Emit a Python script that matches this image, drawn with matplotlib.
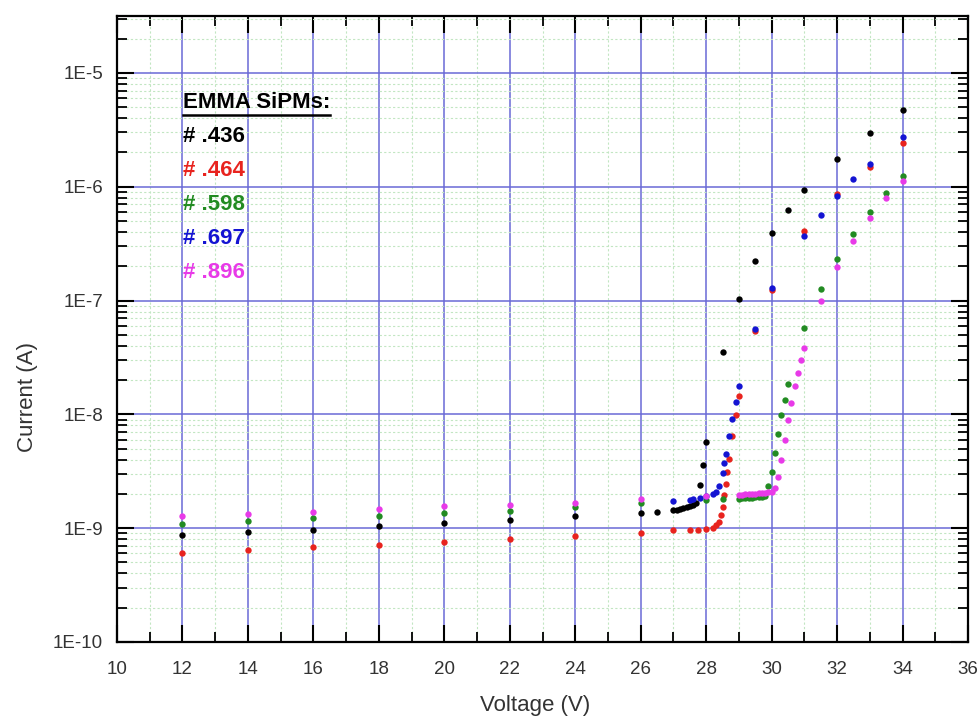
import matplotlib
matplotlib.use("Agg")
import matplotlib.pyplot as plt
from matplotlib.ticker import FixedLocator, LogLocator, NullFormatter, FixedFormatter
from matplotlib.lines import Line2D

plt.rcParams['font.family'] = ['Liberation Sans', 'DejaVu Sans']

low_v = [12, 14, 16, 18, 20, 22, 24, 26]

# Series #.436 (black)
v436 = low_v + [26.5, 27.0, 27.1, 27.2, 27.3, 27.4, 27.5, 27.6, 27.7, 27.8, 27.9, 28.0,
                28.5, 29.0, 29.5, 30.0, 30.5, 31.0, 32.0, 33.0, 34.0]
i436 = [8.7e-10, 9.2e-10, 9.7e-10, 1.04e-9, 1.10e-9, 1.18e-9, 1.27e-9, 1.36e-9,
        1.39e-9, 1.44e-9, 1.45e-9, 1.47e-9, 1.50e-9, 1.53e-9, 1.56e-9, 1.61e-9, 1.67e-9,
        2.38e-9, 3.57e-9, 5.68e-9, 3.5e-8, 1.04e-7, 2.24e-7, 3.95e-7, 6.28e-7, 9.3e-7,
        1.76e-6, 2.99e-6, 4.73e-6]

# Series #.464 (red)
v464 = low_v + [27.0, 27.5, 27.75, 28.0, 28.2, 28.3, 28.4, 28.45, 28.5, 28.55, 28.6,
                28.65, 28.7, 28.8, 28.9, 29.0, 29.5, 30.0, 31.0, 32.0, 33.0, 34.0]
i464 = [6.07e-10, 6.41e-10, 6.77e-10, 7.14e-10, 7.54e-10, 8.01e-10, 8.51e-10, 9.09e-10,
        9.55e-10, 9.6e-10, 9.67e-10, 9.8e-10, 1.01e-9, 1.06e-9, 1.13e-9, 1.30e-9, 1.54e-9,
        1.95e-9, 2.43e-9, 3.14e-9, 4.03e-9, 6.41e-9, 9.8e-9, 1.44e-8, 5.4e-8, 1.25e-7,
        4.11e-7, 8.63e-7, 1.5e-6, 2.40e-6]

# Series #.598 (green)
v598 = low_v + [28.0, 28.5, 29.0, 29.1, 29.2, 29.3, 29.4, 29.5, 29.6, 29.7, 29.8, 29.9,
                30.0, 30.1, 30.2, 30.3, 30.4, 30.5, 31.0, 31.5, 32.0, 32.5, 33.0, 33.5, 34.0]
i598 = [1.09e-9, 1.15e-9, 1.22e-9, 1.29e-9, 1.35e-9, 1.42e-9, 1.52e-9, 1.65e-9,
        1.76e-9, 1.80e-9, 1.82e-9, 1.83e-9, 1.84e-9, 1.85e-9, 1.86e-9, 1.87e-9, 1.88e-9,
        1.89e-9, 1.91e-9, 2.34e-9, 3.12e-9, 4.61e-9, 6.77e-9, 9.8e-9, 1.35e-8, 1.83e-8,
        5.77e-8, 1.27e-7, 2.32e-7, 3.85e-7, 5.95e-7, 8.73e-7, 1.23e-6]

# Series #.697 (blue)
v697 = [27.0, 27.5, 27.6, 27.8, 28.0, 28.2, 28.3, 28.4, 28.5, 28.55, 28.6, 28.7, 28.8,
        28.9, 29.0, 29.5, 30.0, 31.0, 31.5, 32.0, 32.5, 33.0, 34.0]
i697 = [1.73e-9, 1.76e-9, 1.79e-9, 1.85e-9, 1.92e-9, 2.01e-9, 2.08e-9, 2.35e-9, 3.05e-9,
        3.74e-9, 4.46e-9, 6.41e-9, 9.17e-9, 1.28e-8, 1.76e-8, 5.68e-8, 1.30e-7, 3.72e-7,
        5.65e-7, 8.22e-7, 1.17e-6, 1.58e-6, 2.75e-6]

# Series #.896 (magenta)
v896 = low_v + [28.0, 29.0, 29.1, 29.2, 29.3, 29.4, 29.5, 29.6, 29.7, 29.8, 29.9, 30.0,
                30.1, 30.2, 30.3, 30.4, 30.5, 30.6, 30.7, 30.8, 30.9, 31.0,
                31.5, 32.0, 32.5, 33.0, 33.5, 34.0]
i896 = [1.27e-9, 1.33e-9, 1.38e-9, 1.46e-9, 1.56e-9, 1.61e-9, 1.68e-9, 1.80e-9,
        1.92e-9, 1.96e-9, 1.97e-9, 1.98e-9, 1.99e-9, 2.00e-9, 2.01e-9, 2.03e-9, 2.04e-9,
        2.05e-9, 2.07e-9, 2.08e-9, 2.27e-9, 2.82e-9, 4.0e-9, 5.9e-9, 8.86e-9, 1.26e-8,
        1.77e-8, 2.32e-8, 3.01e-8, 3.85e-8, 9.86e-8, 1.96e-7, 3.36e-7, 5.31e-7, 7.96e-7,
        1.13e-6]

labels = ['# .436', '# .464', '# .598', '# .697', '# .896']
colors = ['#000000', '#e8231e', '#228b22', '#1414d2', '#e83ae8']
series = [(v436, i436), (v464, i464), (v598, i598), (v697, i697), (v896, i896)]

x_ticks = list(range(10, 37, 2))
y_ticks = [1e-10, 1e-9, 1e-8, 1e-7, 1e-6, 1e-5]
y_ticklabels = ['1E-10', '1E-9', '1E-8', '1E-7', '1E-6', '1E-5']

fig = plt.figure(figsize=(9.8, 7.18), dpi=100)
ax = fig.add_axes([117/980, 76/718, 851/980, 626/718])

for (v, i), c in zip(series, colors):
    ax.scatter(v, i, s=21, color=c, zorder=5, linewidths=0)

ax.set_yscale('log')
ax.set_xlim(10, 36)
ax.set_ylim(1e-10, 10**-4.5)

ax.xaxis.set_major_locator(FixedLocator(x_ticks))
ax.xaxis.set_minor_locator(FixedLocator(list(range(11, 36, 2))))
ax.set_xticklabels([str(t) for t in x_ticks])
ax.yaxis.set_major_locator(FixedLocator(y_ticks))
ax.yaxis.set_major_formatter(FixedFormatter(y_ticklabels))
ax.yaxis.set_minor_locator(LogLocator(base=10, subs=range(2, 10), numticks=20))
ax.yaxis.set_minor_formatter(NullFormatter())

ax.grid(which='major', color='#6a6ad6', linewidth=1.1, linestyle='-', zorder=1)
ax.grid(which='minor', color='#c2e6c2', linewidth=0.8, linestyle=(0, (2, 2)), zorder=0)
ax.set_axisbelow(True)

ax.tick_params(which='major', direction='in', length=12, width=1.5,
               top=True, right=True, labelsize=13.5, labelcolor='#333333')
ax.tick_params(axis='x', which='major', pad=14)
ax.tick_params(axis='y', which='major', pad=10)
ax.tick_params(which='minor', direction='in', length=7, width=1.3, top=True, right=True)
for s in ax.spines.values():
    s.set_linewidth(1.6)

ax.set_xlabel('Voltage (V)', fontsize=16, color='#333333', va='center')
ax.set_ylabel('Current (A)', fontsize=16, color='#333333', va='center')
ax.xaxis.set_label_coords((535 - 117) / 851, (642 - 705) / 626)
ax.yaxis.set_label_coords((28 - 117) / 851, (642 - 397) / 626)

# Text legend
tx = (183 - 117) / 851
title = ax.text(tx, (642 - 103) / 626, 'EMMA SiPMs:', transform=ax.transAxes,
                fontsize=16, fontweight='bold', color='black', va='center', ha='left')
rows_y = [136, 170, 204, 238, 272]
for lab, c, yp in zip(labels, colors, rows_y):
    ax.text(tx, (642 - yp) / 626, lab, transform=ax.transAxes, fontsize=16,
            fontweight='bold', color=c, va='center', ha='left')

fig.canvas.draw()
bb = title.get_window_extent().transformed(ax.transAxes.inverted())
uy = bb.y0 - 0.003
ax.add_line(Line2D([bb.x0, bb.x1], [uy, uy], transform=ax.transAxes,
                   color='black', linewidth=1.8, zorder=6))

fig.savefig('out.png', dpi=100)
